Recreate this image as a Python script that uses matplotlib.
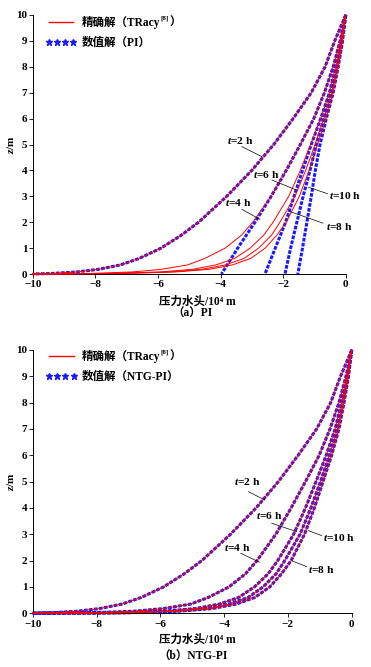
import matplotlib
matplotlib.use("Agg")
import matplotlib.pyplot as plt
from matplotlib.lines import Line2D

plt.rcParams["font.family"] = ["Liberation Serif", "Noto Sans CJK SC"]
plt.rcParams["font.weight"] = "bold"
plt.rcParams["mathtext.fontset"] = "custom"
plt.rcParams["mathtext.it"] = "Liberation Serif:italic:bold"
plt.rcParams["mathtext.rm"] = "Liberation Serif:bold"
plt.rcParams["axes.unicode_minus"] = True

# 精确解 (TRacy) ，z 层位
z_exact = [10, 9, 8, 7, 6, 5, 4, 3, 2, 1.5, 1, 0.6, 0.35, 0.18, 0.08, 0.02, 0]
h_exact_t2 = [0, -0.35, -0.66, -1.1, -1.68, -2.3, -3.0, -3.8, -4.7, -5.25, -5.9, -6.6, -7.2, -7.9, -8.6, -9.4, -10]
h_exact_t4 = [0, -0.18, -0.4, -0.68, -1.02, -1.45, -1.9, -2.38, -2.97, -3.33, -3.85, -4.5, -5.05, -5.9, -6.8, -8.2, -10]
h_exact_t6 = [0, -0.14, -0.32, -0.52, -0.8, -1.12, -1.45, -1.82, -2.32, -2.62, -3.05, -3.55, -4.15, -4.9, -5.9, -7.6, -10]
h_exact_t8 = [0, -0.12, -0.27, -0.45, -0.7, -0.98, -1.28, -1.62, -2.1, -2.37, -2.78, -3.25, -3.85, -4.6, -5.6, -7.3, -10]
h_exact_t10 = [0, -0.1, -0.24, -0.4, -0.63, -0.9, -1.17, -1.48, -1.9, -2.2, -2.57, -3.04, -3.62, -4.37, -5.4, -7.1, -10]

# 数值解 (PI)
z_pi = [10, 9, 8, 7, 6, 5, 4, 3, 2, 1, 0]
h_pi_t2 = h_exact_t2
h_pi_t4 = [0, -0.18, -0.4, -0.68, -1.02, -1.45, -1.9, -2.38, -2.9, -3.45, -3.97]
h_pi_t6 = [0, -0.14, -0.32, -0.52, -0.8, -1.1, -1.38, -1.65, -1.92, -2.25, -2.58]
h_pi_t8 = [0, -0.12, -0.27, -0.45, -0.7, -0.94, -1.14, -1.36, -1.56, -1.76, -1.94]
h_pi_t10 = [0, -0.1, -0.24, -0.4, -0.62, -0.82, -0.97, -1.1, -1.24, -1.38, -1.53]

# 数值解 (NTG-PI) 与精确解重合
h_ntg_t2 = h_exact_t2
h_ntg_t4 = h_exact_t4
h_ntg_t6 = h_exact_t6
h_ntg_t8 = h_exact_t8
h_ntg_t10 = h_exact_t10

exact = [h_exact_t2, h_exact_t4, h_exact_t6, h_exact_t8, h_exact_t10]
pi = [(z_exact, h_pi_t2), (z_pi, h_pi_t4), (z_pi, h_pi_t6), (z_pi, h_pi_t8), (z_pi, h_pi_t10)]
ntg = [(z_exact, h_ntg_t2), (z_exact, h_ntg_t4), (z_exact, h_ntg_t6), (z_exact, h_ntg_t8), (z_exact, h_ntg_t10)]

W, H = 371, 667
fig = plt.figure(figsize=(W / 100, H / 100), dpi=100)
ax1 = fig.add_axes([32.7 / W, 1 - 274 / H, 313 / W, 259 / H])
ax2 = fig.add_axes([32.7 / W, 1 - 613.3 / H, 319 / W, 263.3 / H])

FS = 8
BLUE = "#1a1aff"


def setup(ax):
  ax.set_xlim(-10, 0)
  ax.set_ylim(0, 10)
  ax.set_xticks(range(-10, 1, 2))
  ax.set_yticks(range(0, 11))
  for s in ["top", "right"]:
    ax.spines[s].set_visible(False)
  for s in ["left", "bottom"]:
    ax.spines[s].set_linewidth(0.7)
  ax.tick_params(direction="out", length=3, width=0.6, labelsize=FS)
  ax.tick_params(axis="x", pad=1.5)
  ax.tick_params(axis="y", pad=1.0)
  for t in ax.get_xticklabels() + ax.get_yticklabels():
    t.set_fontweight("bold")


def note(ax, txt, tx, ty, x0, y0, x1, y1, ha="center"):
  ax.text(tx, ty, txt, fontsize=8.2, ha=ha, va="center")
  ax.annotate("", xy=(x1, y1), xytext=(x0, y0),
              arrowprops=dict(arrowstyle="-", lw=0.5, color="k", shrinkA=0, shrinkB=0))


def draw(ax, numeric):
  for z, h in numeric:
    ax.plot(h, z, color=BLUE, lw=2.2, ls=(0, (1.2, 0.45)), zorder=2, clip_on=False)
  for h in exact:
    ax.plot(h, z_exact, color="#ff0000", lw=0.7, zorder=3, clip_on=False)


setup(ax1)
draw(ax1, pi)
note(ax1, "$t$=2 h", -3.38, 5.15, -3.32, 4.92, -2.68, 4.53)
note(ax1, "$t$=6 h", -2.55, 3.85, -2.36, 3.63, -1.57, 3.24)
note(ax1, "$t$=4 h", -3.43, 2.75, -3.32, 2.50, -2.74, 2.11)
note(ax1, "$t$=10 h", -0.52, 3.05, -1.19, 3.35, -0.58, 3.10, ha="left")
note(ax1, "$t$=8 h", -0.63, 1.85, -1.78, 2.41, -0.72, 1.96, ha="left")

setup(ax2)
draw(ax2, ntg)
note(ax2, "$t$=2 h", -3.29, 5.0, -3.24, 4.62, -2.72, 4.30)
note(ax2, "$t$=6 h", -2.58, 3.70, -2.51, 3.42, -1.72, 3.10)
note(ax2, "$t$=4 h", -3.6, 2.51, -3.48, 2.28, -2.89, 1.94)
note(ax2, "$t$=10 h", -0.89, 2.89, -1.36, 3.14, -0.94, 2.95, ha="left")
note(ax2, "$t$=8 h", -1.36, 1.65, -1.86, 1.99, -1.41, 1.77, ha="left")

# 图例
legs = []
for ax, name, top in [(ax1, "数值解（PI）", 0.997), (ax2, "数值解（NTG-PI）", 1.0)]:
  hs = [Line2D([], [], color="#ff0000", lw=1.0),
        Line2D([], [], color=BLUE, ls="none", marker="*", ms=4.5)]
  leg = ax.legend(hs, ["精确解（TRacy", name], loc="upper left",
                  bbox_to_anchor=(0.04, top), frameon=False, fontsize=8.3,
                  handlelength=2.75, handletextpad=0.4, labelspacing=0.7,
                  borderpad=0, borderaxespad=0, numpoints=4)
  for t in leg.get_texts():
    t.set_fontweight("bold")
  legs.append(leg)

# 坐标轴标题
for ax, py_lab, py_cap, cap, yl in [(ax1, 301.5, 313.5, "（a）PI", 145),
                                    (ax2, 640, 656.5, "（b）NTG-PI", 482)]:
  fig.text(197 / W, 1 - py_lab / H, "压力水头/10⁴ m", fontsize=8.3, ha="center", va="center",
           family=["Liberation Serif", "Noto Sans CJK SC", "DejaVu Serif"])
  fig.text(193 / W, 1 - py_cap / H, cap, fontsize=8.3, ha="center", va="center")
  fig.text(10 / W, 1 - yl / H, "$z$/m", fontsize=FS, ha="center", va="center", rotation=90)

fig.canvas.draw()
r = fig.canvas.get_renderer()
for leg in legs:
  bb = leg.get_texts()[0].get_window_extent(r)
  sup = fig.text(bb.x1 + 0.5, bb.y0 + bb.height * 0.6, "[8]", fontsize=5,
                 ha="left", va="bottom", transform=None)
  sb = sup.get_window_extent(r)
  fig.text(sb.x1 + 0.5, bb.y0, "）", fontsize=8.3, ha="left", va="bottom", transform=None)

fig.savefig("out.png", dpi=100)
